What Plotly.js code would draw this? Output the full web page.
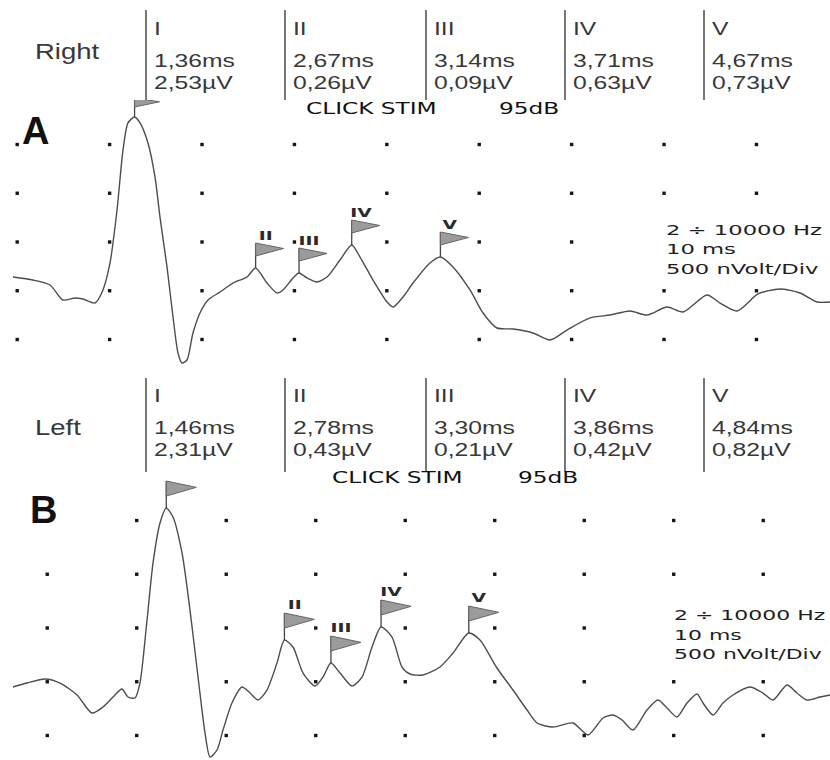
<!DOCTYPE html>
<html><head><meta charset="utf-8">
<script src="https://cdn.plot.ly/plotly-3.0.1.min.js"></script>
<style>html,body{margin:0;padding:0;background:#fff;}</style>
</head><body>
<div id="chart" style="width:830px;height:760px;"></div>
<script>
// ---------- DATA ----------
const waveLabels = ['I', 'II', 'III', 'IV', 'V'];
const rightLatency = [1.36, 2.67, 3.14, 3.71, 4.67];   // ms
const rightAmplitude = [2.53, 0.26, 0.09, 0.63, 0.73]; // µV
const leftLatency = [1.46, 2.78, 3.30, 3.86, 4.84];
const leftAmplitude = [2.31, 0.43, 0.21, 0.42, 0.82];

const timeRight = [0.044,0.261,0.445,0.585,0.715,0.802,0.932,1.018,1.094,1.170,
 1.235,1.289,1.36,1.419,1.505,1.581,1.635,1.711,1.776,1.830,
 1.873,1.927,1.992,2.068,2.155,2.285,2.425,2.577,2.67,2.793,
 2.902,2.966,3.075,3.14,3.226,3.334,3.443,3.583,3.71,3.800,
 3.940,4.092,4.157,4.265,4.373,4.557,4.67,4.806,4.990,5.131,
 5.282,5.456,5.672,5.856,6.040,6.289,6.505,6.722,6.906,7.122,
 7.295,7.555,7.696,7.880,8.107,8.345,8.562,8.746,8.886];
const signalRight = [-0.359,-0.390,-0.441,-0.595,-0.574,-0.585,-0.626,-0.492,-0.215,0.328,
 0.944,1.221,1.282,1.221,1.015,0.667,0.256,-0.256,-0.769,-1.138,
 -1.241,-1.210,-0.933,-0.728,-0.595,-0.513,-0.421,-0.359,-0.267,-0.421,
 -0.523,-0.492,-0.369,-0.318,-0.369,-0.410,-0.359,-0.185,-0.031,-0.154,
 -0.390,-0.615,-0.667,-0.564,-0.421,-0.215,-0.154,-0.256,-0.492,-0.728,
 -0.882,-0.892,-0.933,-1.005,-0.903,-0.779,-0.749,-0.708,-0.749,-0.667,
 -0.718,-0.544,-0.626,-0.708,-0.533,-0.482,-0.523,-0.615,-0.615];

const timeLeft = [-0.253,-0.096,0.105,0.273,0.463,0.630,0.753,0.865,0.965,1.032,
 1.111,1.166,1.245,1.312,1.390,1.46,1.535,1.636,1.725,1.815,
 1.893,1.949,2.027,2.094,2.194,2.306,2.396,2.485,2.585,2.697,
 2.78,2.876,2.988,3.122,3.211,3.30,3.401,3.535,3.647,3.759,
 3.86,3.982,4.094,4.183,4.328,4.518,4.664,4.84,4.965,5.155,
 5.334,5.491,5.602,5.781,6.004,6.172,6.340,6.451,6.552,6.675,
 6.831,6.954,7.055,7.166,7.278,7.390,7.457,7.569,7.680,7.792,
 7.982,8.127,8.239,8.396,8.507,8.619,8.764,8.876];
const signalLeft = [-0.549,-0.512,-0.474,-0.512,-0.623,-0.791,-0.735,-0.642,-0.567,-0.642,
 -0.651,-0.512,0.074,0.605,0.977,1.116,1.033,0.698,0.167,-0.456,
 -0.977,-1.200,-1.135,-0.949,-0.698,-0.549,-0.605,-0.670,-0.577,-0.326,
 -0.112,-0.177,-0.419,-0.540,-0.456,-0.326,-0.419,-0.540,-0.456,-0.177,
 0.009,-0.084,-0.363,-0.428,-0.437,-0.363,-0.233,-0.047,-0.112,-0.372,
 -0.577,-0.763,-0.884,-0.921,-0.884,-0.995,-0.837,-0.809,-0.856,-0.949,
 -0.763,-0.670,-0.744,-0.828,-0.698,-0.614,-0.698,-0.809,-0.698,-0.623,
 -0.549,-0.605,-0.670,-0.530,-0.605,-0.670,-0.642,-0.623];

const gridTimeRight = [0.09,1.09,2.09,3.09,4.09,5.09,6.09,7.09,8.09];
const gridTimeLeft = [0.13,1.13,2.13,3.13,4.13,5.13,6.13,7.13,8.13];
const gridAmp = [1, 0.5, 0, -0.5, -1];   // 500 nV / div

const filterText = ['2 \u00f7 10000 Hz', '10 ms', '500 nVolt/Div'];
const stimText = ['CLICK STIM', '95dB'];
const sideNames = ['Right', 'Left'];
const panelLetters = ['A', 'B'];

// ---------- HELPERS ----------
const W = 830, H = 760;
const px = v => v / W;
const py = v => 1 - v / H;
const fmt = (v, u) => v.toFixed(2).replace('.', ',') + u;
function interp(ts, vs, t) {
  for (let i = 0; i < ts.length - 1; i++) {
    if (t >= ts[i] && t <= ts[i + 1]) {
      const f = (t - ts[i]) / (ts[i + 1] - ts[i]);
      return vs[i] + f * (vs[i + 1] - vs[i]);
    }
  }
  return vs[vs.length - 1];
}

const TXT = '#383838';
const SANS = 'Liberation Sans, Arial, sans-serif';
const DJ = 'DejaVu Sans, Verdana, sans-serif';

const traces = [];
const shapes = [];
const annotations = [];
const stretch = [];
const origin = [];
function addAnn(a, s, o) { annotations.push(a); stretch.push(s || 1); origin.push(o || '0% 50%'); }

const panels = [
  {xa: 'x', ya: 'y', t: timeRight, v: signalRight, lat: rightLatency, amp: rightAmplitude, grid: gridTimeRight,
   tableTop: 10, tableBot: 100, rows: [28, 60, 83], nameY: 52, letter: {x: 20, y: 131}, stimY: 109, stimX: [304, 497],
   filtX: 664, filtY: [230, 249, 269], filtS: 1.62, pole: 25, flagW: 28, flagH: 13, labShift: 33, skipRow1Col0: false},
  {xa: 'x2', ya: 'y2', t: timeLeft, v: signalLeft, lat: leftLatency, amp: leftAmplitude, grid: gridTimeLeft,
   tableTop: 378, tableBot: 472, rows: [396, 427, 450], nameY: 427, letter: {x: 28, y: 510}, stimY: 478, stimX: [330, 516],
   filtX: 672, filtY: [615, 635, 654], filtS: 1.57, pole: 27, flagW: 30, flagH: 15, labShift: 36, skipRow1Col0: true}
];
const colX = [146, 285, 426, 565, 704];

panels.forEach((p, pi) => {
  // grid dots
  const gx = [], gy = [];
  gridAmp.forEach((a, r) => {
    p.grid.forEach((t, c) => {
      if (r === 0 && c === 0 && p.skipRow1Col0) return;
      if (a === 0 && c >= 7) return; // hidden under the filter text
      gx.push(t); gy.push(a);
    });
  });
  traces.push({type: 'scatter', mode: 'markers', x: gx, y: gy, xaxis: p.xa, yaxis: p.ya,
    marker: {symbol: 'square', size: 3.4, color: '#151515'}, hoverinfo: 'skip'});
  // waveform
  traces.push({type: 'scatter', mode: 'lines', x: p.t, y: p.v, xaxis: p.xa, yaxis: p.ya,
    line: {color: '#4d4d4d', width: 1.4, shape: 'spline', smoothing: 0.7}, hoverinfo: 'skip'});

  // flags
  p.lat.forEach((lat, i) => {
    const peak = interp(p.t, p.v, lat);
    let pole = p.pole, fw = p.flagW, fh = p.flagH;
    if (pi === 0 && i === 0) { pole = 19; fw = 25; fh = 9; }
    const base = {xref: p.xa, yref: p.ya, xsizemode: 'pixel', ysizemode: 'pixel', xanchor: lat, yanchor: peak, type: 'path'};
    shapes.push(Object.assign({}, base, {path: `M0,0L0,${pole}`, line: {color: '#444', width: 1.3}}));
    shapes.push(Object.assign({}, base, {path: `M0,${pole}L${fw},${pole - fh * 0.42}L0,${pole - fh}Z`,
      fillcolor: '#9b9b9b', line: {color: '#666', width: 1}}));
    if (i > 0) {
      addAnn({xref: p.xa, yref: p.ya, x: lat, y: peak, xshift: 10, yshift: p.labShift, text: waveLabels[i],
        showarrow: false, xanchor: 'center', yanchor: 'middle',
        font: {family: DJ, size: 12.5, color: '#2a2a2a', weight: 'bold'}}, 1.5, '50% 50%');
    }
  });

  // table
  colX.forEach((cx, i) => {
    shapes.push({type: 'line', xref: 'paper', yref: 'paper', x0: px(cx), x1: px(cx), y0: py(p.tableTop), y1: py(p.tableBot),
      line: {color: '#4a4a4a', width: 1.5}});
    const cells = [waveLabels[i], fmt(p.lat[i], 'ms'), fmt(p.amp[i], '\u00b5V')];
    cells.forEach((txt, r) => {
      addAnn({xref: 'paper', yref: 'paper', x: px(cx + 6), y: py(p.rows[r]), text: txt, showarrow: false,
        xanchor: 'left', yanchor: 'middle', align: 'left', font: {family: SANS, size: 19, color: TXT}}, 1.3);
    });
  });
  addAnn({xref: 'paper', yref: 'paper', x: px(33), y: py(p.nameY), text: sideNames[pi], showarrow: false,
    xanchor: 'left', yanchor: 'middle', align: 'left', font: {family: SANS, size: 22, color: TXT}}, 1.25);
  addAnn({xref: 'paper', yref: 'paper', x: px(p.letter.x), y: py(p.letter.y), text: panelLetters[pi], showarrow: false,
    xanchor: 'left', yanchor: 'middle', align: 'left', font: {family: SANS, size: 38, color: '#111', weight: 'bold'}}, 1);
  stimText.forEach((s, k) => {
    addAnn({xref: 'paper', yref: 'paper', x: px(p.stimX[k]), y: py(p.stimY), text: s, showarrow: false,
      xanchor: 'left', yanchor: 'middle', align: 'left', font: {family: DJ, size: 15, color: '#111'}}, 1.55);
  });
  filterText.forEach((s, k) => {
    addAnn({xref: 'paper', yref: 'paper', x: px(p.filtX), y: py(p.filtY[k]), text: s, showarrow: false,
      xanchor: 'left', yanchor: 'middle', align: 'left', font: {family: DJ, size: 14, color: '#1e1e1e'}}, p.filtS);
  });
});

const hidden = {visible: false, showgrid: false, zeroline: false, fixedrange: true};
const layout = {
  width: W, height: H,
  margin: {l: 0, r: 0, t: 0, b: 0},
  paper_bgcolor: '#fff', plot_bgcolor: '#fff',
  showlegend: false,
  xaxis: Object.assign({domain: [0, 1], range: [-0.0963, 8.886], anchor: 'y'}, hidden),
  yaxis: Object.assign({domain: [py(375), py(100)], range: [-1.3641, 1.4564], anchor: 'x'}, hidden),
  xaxis2: Object.assign({domain: [0, 1], range: [-0.3978, 8.876], anchor: 'y2'}, hidden),
  yaxis2: Object.assign({domain: [0, py(480)], range: [-1.2279, 1.3767], anchor: 'x2'}, hidden),
  shapes: shapes,
  annotations: annotations
};

Plotly.newPlot('chart', traces, layout, {displayModeBar: false, staticPlot: true}).then(gd => {
  gd.querySelectorAll('g.annotation').forEach(g => {
    const i = +g.getAttribute('data-index');
    const s = stretch[i];
    if (!s || s === 1) return;
    const t = g.querySelector('text.annotation-text');
    if (!t) return;
    t.style.transformBox = 'fill-box';
    t.style.transformOrigin = origin[i];
    t.style.transform = 'scaleX(' + s + ')';
  });
});
</script>
</body></html>
